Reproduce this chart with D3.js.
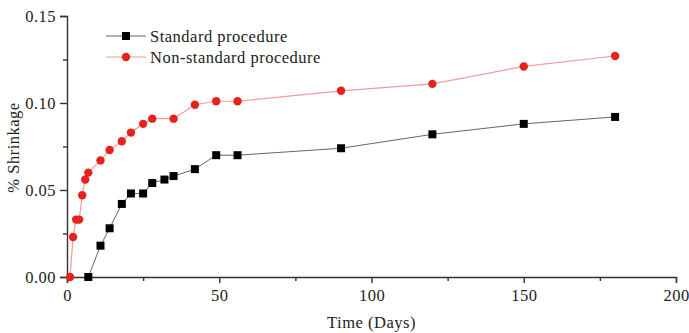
<!DOCTYPE html>
<html>
<head>
<meta charset="utf-8">
<script src="https://cdn.jsdelivr.net/npm/d3@7"></script>
<style>
  body { margin: 0; background: #fff; }
  text { font-family: "Liberation Serif", "Times New Roman", serif; fill: #222; letter-spacing: 0.5px; }
</style>
</head>
<body>
<div id="graph"></div>
<script>
// values
var stdDays = [7, 11, 14, 18, 21, 25, 28, 32, 35, 42, 49, 56, 90, 120, 150, 180];
var stdValues = [0, 0.018, 0.028, 0.042, 0.048, 0.048, 0.054, 0.056, 0.058, 0.062, 0.070, 0.070, 0.074, 0.082, 0.088, 0.092];

var nonDays = [1, 2, 3, 4, 5, 6, 7, 11, 14, 18, 21, 25, 28, 35, 42, 49, 56, 90, 120, 150, 180];
var nonValues = [0, 0.023, 0.033, 0.033, 0.047, 0.056, 0.060, 0.067, 0.073, 0.078, 0.083, 0.088, 0.091, 0.091, 0.099, 0.101, 0.101, 0.107, 0.111, 0.121, 0.127];

var xTicks = [0, 50, 100, 150, 200];
var yTicks = [0, 0.05, 0.10, 0.15];
var seriesNames = ["Standard procedure", "Non-standard procedure"];

var margin = { top: 16, right: 13, bottom: 56, left: 67 },
    width = 689 - margin.left - margin.right,
    height = 333 - margin.top - margin.bottom;

var x = d3.scaleLinear().domain([0, 200]).range([0, width]);
var y = d3.scaleLinear().domain([0, 0.15]).range([height, 0]);

var svg = d3.select("#graph").append("svg")
    .attr("width", width + margin.left + margin.right)
    .attr("height", height + margin.top + margin.bottom)
    .append("g")
    .attr("transform", "translate(" + margin.left + "," + margin.top + ")");

// minor ticks first
svg.append("g")
    .attr("transform", "translate(0," + height + ")")
    .call(d3.axisBottom(x).tickValues([25, 75, 125, 175]).tickSize(4).tickFormat(""))
    .call(g => g.select(".domain").remove());
svg.append("g")
    .call(d3.axisLeft(y).tickValues([0.025, 0.075, 0.125]).tickSize(4).tickFormat(""))
    .call(g => g.select(".domain").remove());

var xAxis = svg.append("g")
    .attr("transform", "translate(0," + height + ")")
    .call(d3.axisBottom(x).tickValues(xTicks).tickSize(6).tickPadding(6).tickFormat(d3.format("d")));
var yAxis = svg.append("g")
    .call(d3.axisLeft(y).tickValues(yTicks).tickSize(7).tickPadding(4).tickFormat(d3.format(".2f")));

svg.selectAll(".domain, .tick line").attr("stroke", "#333").attr("stroke-width", 1.4);
svg.selectAll(".tick text").style("font-size", "16.5px").attr("fill", "#222");

svg.append("text")
    .attr("x", width / 2).attr("y", height + 51)
    .attr("text-anchor", "middle")
    .style("font-size", "16.5px")
    .text("Time (Days)");

svg.append("text")
    .attr("transform", "translate(-48," + (y(0.075) + 1) + ") rotate(-90)")
    .attr("text-anchor", "middle")
    .style("font-size", "16.5px")
    .text("% Shrinkage");

var line = d3.line()
    .x(d => x(d[0]))
    .y(d => y(d[1]));

var stdData = d3.zip(stdDays, stdValues);
var nonData = d3.zip(nonDays, nonValues);

svg.append("path").datum(stdData)
    .attr("fill", "none").attr("stroke", "#666").attr("stroke-width", 1)
    .attr("d", line);
svg.append("path").datum(nonData)
    .attr("fill", "none").attr("stroke", "#f39a9a").attr("stroke-width", 1.2)
    .attr("d", line);

svg.selectAll(".sq").data(stdData).enter().append("rect")
    .attr("class", "sq")
    .attr("x", d => x(d[0]) - 4).attr("y", d => y(d[1]) - 4)
    .attr("width", 8).attr("height", 8)
    .attr("fill", "#000");

svg.selectAll(".dot").data(nonData).enter().append("circle")
    .attr("class", "dot")
    .attr("cx", d => x(d[0])).attr("cy", d => y(d[1]))
    .attr("r", 4.2)
    .attr("fill", "#e5231e");

// legend
var legend = svg.append("g").attr("transform", "translate(39,20)");
seriesNames.forEach(function (name, i) {
    var g = legend.append("g").attr("transform", "translate(0," + (i * 21) + ")");
    g.append("line").attr("x1", 0).attr("x2", 40)
        .attr("stroke", i ? "#f39a9a" : "#666").attr("stroke-width", i ? 1.2 : 1);
    if (i) g.append("circle").attr("cx", 20).attr("r", 4.2).attr("fill", "#e5231e");
    else g.append("rect").attr("x", 16).attr("y", -4).attr("width", 8).attr("height", 8).attr("fill", "#000");
    g.append("text").attr("x", 44).attr("y", 5.5).style("font-size", "16.5px").text(name);
});
</script>
</body>
</html>
